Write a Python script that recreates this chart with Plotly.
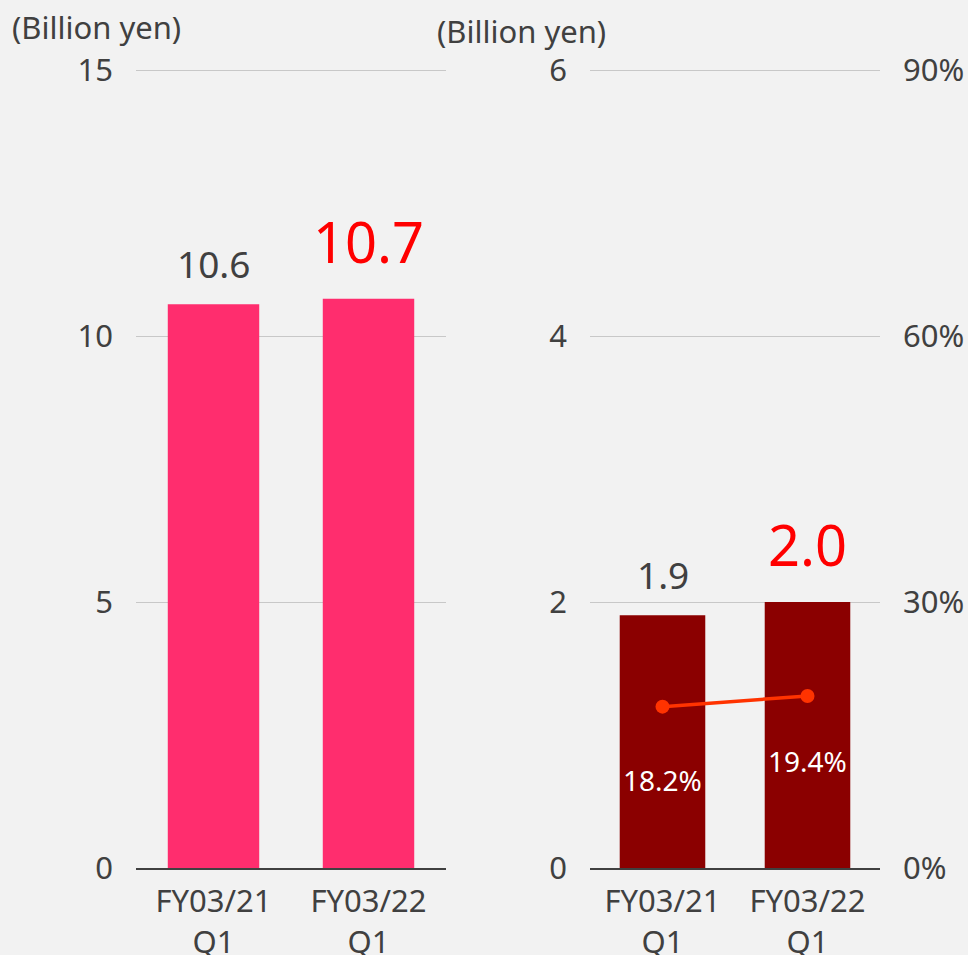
import plotly.graph_objects as go

# Data
categories = ["FY03/21<br>Q1", "FY03/22<br>Q1"]
net_sales = [10.6, 10.7]          # billion yen
operating_income = [1.9, 2.0]     # billion yen
operating_margin = [18.2, 19.4]   # %
sales_ticks = [0, 5, 10, 15]
income_ticks = [0, 2, 4, 6]
margin_ticks = [0, 30, 60, 90]

BG = "#f2f2f2"
TEXT = "#404040"
FONT = "Noto Sans"
PAD = 1.0027  # small headroom so the top gridline is drawn

fig = go.Figure()

fig.add_trace(go.Bar(
    x=categories, y=net_sales, xaxis="x", yaxis="y",
    marker=dict(color="#ff2d6e", line=dict(width=0)), width=0.59,
    hoverinfo="skip",
))
fig.add_trace(go.Bar(
    x=categories, y=operating_income, xaxis="x2", yaxis="y2",
    marker=dict(color="#8b0000", line=dict(width=0)), width=0.59,
    hoverinfo="skip",
))
fig.add_trace(go.Scatter(
    x=categories, y=operating_margin, xaxis="x2", yaxis="y3",
    mode="lines+markers",
    line=dict(color="#ff3300", width=3.5),
    marker=dict(color="#ff3300", size=14),
    hoverinfo="skip",
))

annotations = []
# value labels above bars: previous year in grey, current year highlighted
label_styles = [dict(size=37, color=TEXT, shift=13), dict(size=56, color="#ff0000", shift=18)]
for i, cat in enumerate(categories):
    st = label_styles[i]
    annotations.append(dict(
        x=cat, y=net_sales[i], xref="x", yref="y", text=f"{net_sales[i]:.1f}",
        showarrow=False, yanchor="bottom", yshift=st["shift"],
        font=dict(family=FONT, size=st["size"], color=st["color"]),
    ))
    annotations.append(dict(
        x=cat, y=operating_income[i], xref="x2", yref="y2", text=f"{operating_income[i]:.1f}",
        showarrow=False, yanchor="bottom", yshift=st["shift"],
        font=dict(family=FONT, size=st["size"], color=st["color"]),
    ))

# margin labels inside the bars
margin_shifts = [-73, -65]
for i, cat in enumerate(categories):
    annotations.append(dict(
        x=cat, y=operating_margin[i], xref="x2", yref="y3", text=f"{operating_margin[i]:.1f}%",
        showarrow=False, yanchor="middle", yshift=margin_shifts[i],
        font=dict(family=FONT, size=28, color="white"),
    ))

# unit captions
annotations.append(dict(x=10 / 968, y=1 - 27 / 955, xref="paper", yref="paper",
                        text="(Billion yen)", showarrow=False, xanchor="left", yanchor="middle",
                        font=dict(family=FONT, size=31, color=TEXT)))
annotations.append(dict(x=435 / 968, y=1 - 31 / 955, xref="paper", yref="paper",
                        text="(Billion yen)", showarrow=False, xanchor="left", yanchor="middle",
                        font=dict(family=FONT, size=31, color=TEXT)))

ydom = [1 - 868 / 955, 1 - 68 / 955]
tickfont = dict(family=FONT, size=31, color=TEXT)

common_x = dict(
    type="category", showgrid=False, zeroline=False, showline=True,
    linecolor=TEXT, linewidth=2, ticks="", tickfont=tickfont, fixedrange=True,
    automargin=False, ticklabelstandoff=5,
)
common_y = dict(
    showgrid=True, gridcolor="#c8c8c8", gridwidth=1, zeroline=False,
    showline=False, ticks="", tickfont=tickfont, ticklabelstandoff=22,
    automargin=False,
)

fig.update_layout(
    width=968, height=955,
    margin=dict(l=0, r=0, t=0, b=0),
    paper_bgcolor=BG, plot_bgcolor=BG,
    showlegend=False,
    xaxis=dict(domain=[136 / 968, 446 / 968], anchor="y", **common_x),
    yaxis=dict(domain=ydom, anchor="x", range=[0, max(sales_ticks) * PAD],
               tickvals=sales_ticks, **common_y),
    xaxis2=dict(domain=[590 / 968, 880 / 968], anchor="y2", **common_x),
    yaxis2=dict(domain=ydom, anchor="x2", range=[0, max(income_ticks) * PAD],
                tickvals=income_ticks, **common_y),
    yaxis3=dict(overlaying="y2", anchor="x2", side="right",
                range=[0, max(margin_ticks) * PAD],
                tickvals=margin_ticks, ticktext=[f"{v}%" for v in margin_ticks],
                showgrid=False, zeroline=False, showline=False, ticks="",
                tickfont=tickfont, ticklabelstandoff=22, automargin=False),
    annotations=annotations,
)

fig.write_html("out.html")
